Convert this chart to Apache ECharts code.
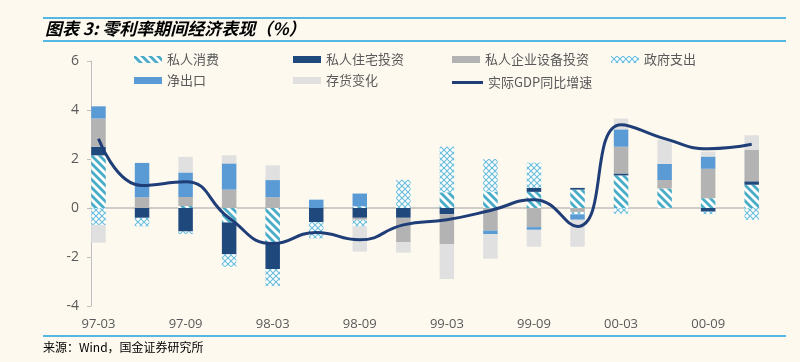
<!DOCTYPE html>
<html><head><meta charset="utf-8">
<script src="https://cdn.jsdelivr.net/npm/echarts@6/dist/echarts.min.js"></script>
<style>html,body{margin:0;padding:0;background:#FDF9EF}#c{width:800px;height:362px}</style>
</head><body><div id="c"></div>
<script>
const categories = ['97-03','97-06','97-09','97-12','98-03','98-06','98-09','98-12','99-03','99-06','99-09','99-12','00-03','00-06','00-09','00-12'];
const yTicks = [-4, -2, 0, 2, 4, 6];
const consumption = [2.15, 0, 0.08, -0.59, -1.41, 0, 0.07, 0, 0.64, 0.67, 0.66, 0.75, 1.33, 0.8, 0.4, 0.95];
const residential = [0.35, -0.4, -0.96, -1.3, -1.08, -0.58, -0.4, -0.4, -0.25, 0, 0.16, 0.07, 0.08, 0, -0.15, 0.14];
const equipment = [1.15, 0.44, 0.37, 0.75, 0.44, 0, -0.08, -1.0, -1.23, -0.92, -0.78, -0.16, 1.09, 0.34, 1.2, 1.29];
const government = [-0.69, -0.35, -0.1, -0.51, -0.69, -0.66, -0.28, 1.15, 1.86, 1.33, 1.03, -0.1, -0.23, 0, -0.1, -0.48];
const netExports = [0.5, 1.4, 1.0, 1.07, 0.7, 0.34, 0.52, 0, 0, -0.15, -0.11, -0.22, 0.71, 0.66, 0.5, 0];
const inventory = [-0.72, 0, 0.64, 0.33, 0.6, 0, -1.02, -0.42, -1.42, -1.0, -0.69, -1.1, 0.44, 0.99, 0.2, 0.59];
const gdp = [2.83, 0.92, 1.07, -0.41, -1.45, -1.0, -1.3, -0.69, -0.48, -0.1, 0.34, -0.75, 3.4, 2.83, 2.42, 2.6];

function hatchPattern() {
  const c = document.createElement('canvas'); c.width = 8; c.height = 8;
  const g = c.getContext('2d');
  g.fillStyle = '#ffffff'; g.fillRect(0, 0, 8, 8);
  g.strokeStyle = '#4BACC6'; g.lineWidth = 2.8;
  for (const o of [-8, 0, 8]) { g.beginPath(); g.moveTo(o - 1, -1); g.lineTo(o + 9, 9); g.stroke(); }
  return {image: c, repeat: 'repeat'};
}
function crossPattern() {
  const c = document.createElement('canvas'); c.width = 6; c.height = 6;
  const g = c.getContext('2d');
  g.fillStyle = '#ffffff'; g.fillRect(0, 0, 6, 6);
  g.strokeStyle = '#6FBFDB'; g.lineWidth = 1.2;
  for (const o of [-6, 0, 6]) {
    g.beginPath(); g.moveTo(o - 1, -1); g.lineTo(o + 7, 7); g.stroke();
    g.beginPath(); g.moveTo(o + 7, -1); g.lineTo(o - 1, 7); g.stroke();
  }
  return {image: c, repeat: 'repeat'};
}

const font = "'Noto Sans CJK SC', 'Open Sans', sans-serif";
const lineColor = '#1F3E78';

const barDefs = [
  ['私人消费', consumption, hatchPattern()],
  ['私人住宅投资', residential, '#1F487C'],
  ['私人企业设备投资', equipment, '#B3B3B3'],
  ['政府支出', government, crossPattern()],
  ['净出口', netExports, '#5B9BD5'],
  ['存货变化', inventory, '#E0E0E0']
];
const series = barDefs.map(([name, arr, color]) => ({
  name, type: 'bar', stack: 'gdp', barWidth: 14.5, clip: false, z: 2,
  itemStyle: {color}, data: arr
}));
series.push({
  name: '实际GDP同比增速', type: 'line', data: gdp, smooth: 0.5, clip: false,
  symbol: 'none', showSymbol: false, z: 5,
  lineStyle: {color: lineColor, width: 3}, itemStyle: {color: lineColor}
});

const legendPos = [
  ['私人消费', 134, 53], ['私人住宅投资', 293, 53], ['私人企业设备投资', 452, 53], ['政府支出', 611, 53],
  ['净出口', 134, 74], ['存货变化', 293, 74], ['实际GDP同比增速', 452, 74]
];
const legends = legendPos.map(([name, x, y]) => {
  const isLine = name === '实际GDP同比增速';
  return {
    data: [{name, icon: 'rect'}], left: x, top: isLine ? y + 2 : y, padding: 0,
    itemWidth: isLine ? 31 : 28, itemHeight: isLine ? 3 : 7,
    textStyle: {color: '#595959', fontSize: 13, fontFamily: font}, selectedMode: false
  };
});

const chart = echarts.init(document.getElementById('c'), null, {renderer: 'canvas'});
chart.setOption({
  animation: false,
  backgroundColor: '#FDF9EF',
  grid: [
    {left: 98.5, right: 48.3, top: 61, bottom: 56, containLabel: false},
    {left: 91, right: 41, top: 61, bottom: 56, containLabel: false}
  ],
  legend: legends,
  xAxis: [
    {type: 'category', gridIndex: 0, data: categories, boundaryGap: false,
     axisLine: {show: false, onZero: false}, axisTick: {show: false}, splitLine: {show: false},
     axisLabel: {interval: 1, margin: 12, color: '#595959', fontSize: 13, fontFamily: "'Open Sans', sans-serif"}},
    {type: 'value', gridIndex: 1, min: 0, max: 1, position: 'bottom',
     axisLine: {show: true, onZero: true, lineStyle: {color: '#BFBFBF', width: 1.5}},
     axisTick: {show: false}, axisLabel: {show: false}, splitLine: {show: false}}
  ],
  yAxis: [
    {type: 'value', gridIndex: 0, min: yTicks[0], max: yTicks[yTicks.length - 1], interval: 2, offset: 7.5,
     axisLine: {show: true, onZero: false, lineStyle: {color: '#BFBFBF'}},
     axisTick: {show: true, length: 4, lineStyle: {color: '#BFBFBF'}},
     splitLine: {show: false},
     axisLabel: {color: '#595959', fontSize: 14, margin: 12, fontFamily: "'Open Sans', sans-serif"}},
    {type: 'value', gridIndex: 1, min: yTicks[0], max: yTicks[yTicks.length - 1], interval: 2,
     axisLine: {show: false}, axisTick: {show: false}, axisLabel: {show: false}, splitLine: {show: false}}
  ],
  series,
  graphic: [
    {type: 'line', shape: {x1: 43, y1: 18, x2: 786, y2: 18}, style: {stroke: '#1DA1DF', lineWidth: 1.5}, silent: true},
    {type: 'line', shape: {x1: 43, y1: 41, x2: 786, y2: 41}, style: {stroke: '#1DA1DF', lineWidth: 1.5}, silent: true},
    {type: 'text', left: 45, top: 20, style: {text: '图表 3: 零利率期间经济表现（%）', fill: '#000', font: "italic bold 17px 'Noto Sans CJK SC', sans-serif"}, silent: true},
    {type: 'line', shape: {x1: 43, y1: 336, x2: 786, y2: 336}, style: {stroke: '#1DA1DF', lineWidth: 1.5}, silent: true},
    {type: 'text', left: 43, top: 341, style: {text: '来源：Wind，国金证券研究所', fill: '#000', font: "12px 'Noto Sans CJK SC', sans-serif"}, silent: true}
  ]
});
</script>
</body></html>
